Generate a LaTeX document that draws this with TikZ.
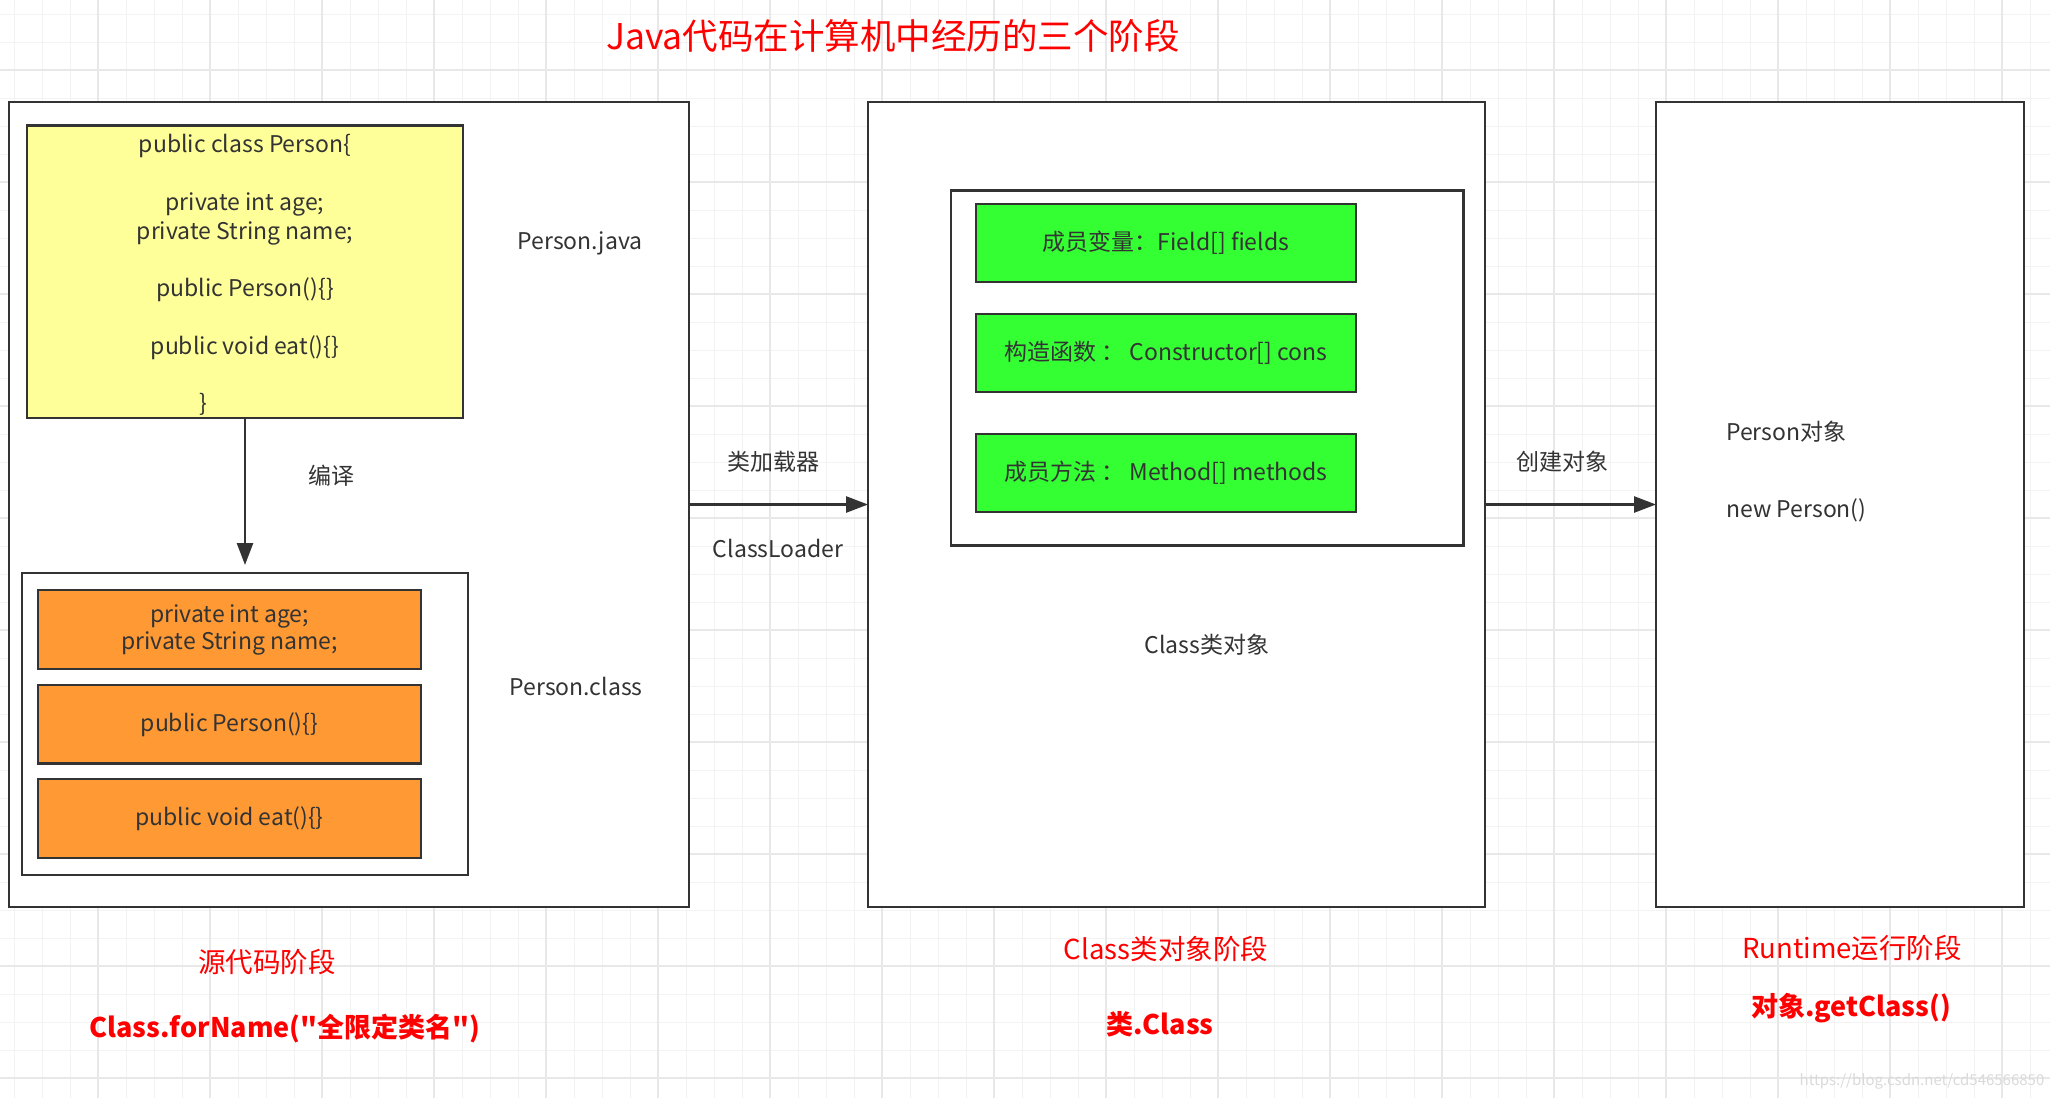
\documentclass[tikz,border=0pt]{standalone}
\usepackage{fontspec}
\setmainfont{Noto Sans CJK SC}
\newfontfamily\plainfont{Noto Sans CJK SC}
\usetikzlibrary{arrows.meta}
\definecolor{ink}{HTML}{333333}
\definecolor{yel}{HTML}{FFFF99}
\definecolor{org}{HTML}{FF9933}
\definecolor{grn}{HTML}{33FF33}
\definecolor{redz}{HTML}{FF0000}
\definecolor{gmin}{HTML}{F3F3F3}
\definecolor{gmaj}{HTML}{E8E8E8}
\definecolor{wmark}{HTML}{DADADA}
\begin{document}
\begin{tikzpicture}[x=1pt,y=-1pt,
  panel/.style={draw=ink, line width=2.6pt, fill=white, anchor=north west, inner sep=0pt, outer sep=0pt},
  txt/.style={text=ink, font=\fontsize{23}{28.8}\selectfont, align=center, inner sep=0pt},
  redl/.style={text=redz, font=\fontsize{27.5}{30}\selectfont, inner sep=0pt},
  redb/.style={text=redz, font=\fontsize{27}{30}\selectfont\bfseries, inner sep=0pt},
  arr/.style={draw=ink, line width=2.6pt, -{Triangle[length=22pt,width=16pt]}},
  gridminor/.style={draw=gmin, line width=1pt},
  gridmajor/.style={draw=gmaj, line width=2pt},
]
\useasboundingbox (0,0) rectangle (2050,1098);
\fill[white] (0,0) rectangle (2050,1098);
% background grid
\foreach \i in {0,...,73} \draw[gridminor] ({14+28*\i},0) -- ++(0,1098);
\foreach \j in {0,...,38} \draw[gridminor] (0,{14+28*\j}) -- ++(2050,0);
\foreach \i in {0,...,17} \draw[gridmajor] ({98+112*\i},0) -- ++(0,1098);
\foreach \j in {0,...,9} \draw[gridmajor] (0,{70+112*\j}) -- ++(2050,0);

% title
\node[text=redz, font=\fontsize{35.5}{38}\selectfont, inner sep=0pt] (title) at (893,36) {Java代码在计算机中经历的三个阶段};

% source stage
\node[panel, minimum width=680, minimum height=805] (src) at (9,102) {};
\node[panel, fill=yel, minimum width=436, minimum height=292.5, text=ink,
      font=\fontsize{23}{28.8}\selectfont, align=center] (yellow) at (27,125.5)
  {\rule{0pt}{25pt}public class Person\{\\[28.8pt]private int age;\\private String name;\\[28.8pt]public Person()\{\}\\[28.8pt]public void eat()\{\}\\[28.8pt]\}\hspace*{84pt}};
\node[panel, minimum width=446, minimum height=302] (classbox) at (22,573) {};
\node[panel, fill=org, minimum width=383, minimum height=79, text=ink,
      font=\fontsize{23}{27}\selectfont, align=center] (o1) at (38,590) {private int age;\\private String name;};
\node[panel, fill=org, minimum width=383, minimum height=78.5, text=ink,
      font=\fontsize{23}{27}\selectfont] (o2) at (38,685) {public Person()\{\}};
\node[panel, fill=org, minimum width=383, minimum height=79, text=ink,
      font=\fontsize{23}{27}\selectfont] (o3) at (38,779) {public void eat()\{\}};
\node[txt] (pjava) at (580,243) {Person.java};
\node[txt] (pclass) at (576,686) {Person.class};
\node[txt] (compile) at (331,476) {编译};

% class object stage
\node[panel, minimum width=617, minimum height=805] (clsobj) at (868,102) {};
\node[panel, minimum width=512.5, minimum height=355] (inner) at (951,190.5) {};
\node[panel, fill=grn, minimum width=380, minimum height=78, text=ink,
      font=\fontsize{23}{27}\selectfont] (g1) at (976,204) {成员变量：Field[] fields};
\node[panel, fill=grn, minimum width=380, minimum height=78, text=ink,
      font=\fontsize{23}{27}\selectfont] (g2) at (976,314) {构造函数 ： Constructor[] cons};
\node[panel, fill=grn, minimum width=380, minimum height=78, text=ink,
      font=\fontsize{23}{27}\selectfont] (g3) at (976,434) {成员方法 ： Method[] methods};
\node[txt] (clsobjlbl) at (1207,644.5) {Class类对象};

% runtime stage
\node[panel, minimum width=368, minimum height=805] (rt) at (1656,102) {};
\node[txt, anchor=west] (pobj) at (1726,432) {Person对象};
\node[txt, anchor=west] (newp) at (1726,510) {new Person()};

% connectors
\draw[arr, shorten >=8pt] (yellow.south) -- (classbox.north);
\draw[arr] (src.east) -- (clsobj.west);
\draw[arr] (clsobj.east) -- (rt.west);
\node[txt] (loader) at (773,461.5) {类加载器};
\node[txt] (loaderen) at (778,548) {ClassLoader};
\node[txt] (create) at (1562,461.5) {创建对象};

% stage captions
\node[redl] (cap1) at (267,962) {源代码阶段};
\node[redb, font=\fontsize{27}{30}\selectfont\plainfont\bfseries] (api1) at (285,1029) {Class.forName("全限定类名")};
\node[redl] (cap2) at (1166,949) {Class类对象阶段};
\node[redb] (api2) at (1160,1024) {类.Class};
\node[redl] (cap3) at (1852,948) {Runtime运行阶段};
\node[redb] (api3) at (1851,1008) {对象.getClass()};

\node[text=wmark, font=\fontsize{15}{16}\selectfont, inner sep=0pt] (wm) at (1922,1081) {https://blog.csdn.net/cd546566850};
\end{tikzpicture}
\end{document}
